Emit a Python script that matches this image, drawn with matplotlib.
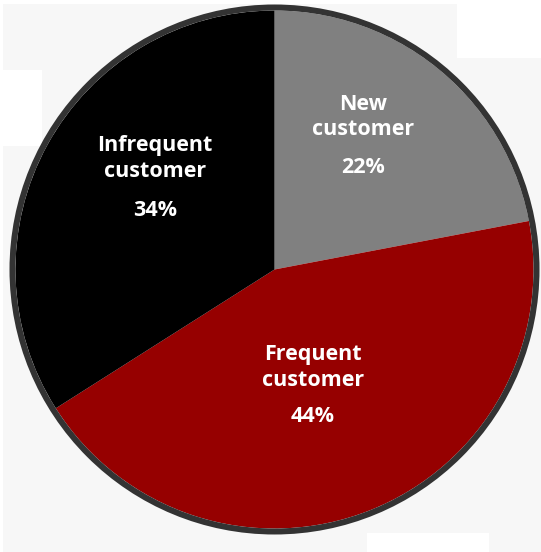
import matplotlib
matplotlib.use("Agg")
from matplotlib import pyplot as plt
from matplotlib.patches import Circle, Rectangle

# slices, clockwise from 12 o'clock
names = ["New\ncustomer", "Frequent\ncustomer", "Infrequent\ncustomer"]
shares = [22, 44, 34]
colours = ["#808080", "#960000", "#000000"]

# label anchor points (data coords, pie radius = 1)
name_xy = [(0.342, 0.589), (0.149, -0.378), (-0.461, 0.429)]
pct_xy = [(0.342, 0.392), (0.149, -0.566), (-0.461, 0.226)]

W, H = 541, 552
CX, CY, R = 274.5, 269.5, 259.0   # pie centre / radius in pixels (from top-left)

fig = plt.figure(figsize=(W / 100, H / 100), dpi=100, facecolor="white")

# light grey backdrop with a few white blocks left over from the source screenshot
def px_rect(x0, y0, x1, y1, colour):
    fig.patches.append(Rectangle((x0 / W, 1 - y1 / H), (x1 - x0) / W, (y1 - y0) / H,
                                 transform=fig.transFigure, facecolor=colour,
                                 edgecolor="none", zorder=-10))

px_rect(3, 4, W, H, "#f7f7f7")
px_rect(3, 70, 42, 146, "white")
px_rect(457, 0, W, 58, "white")
px_rect(367, 533, 489, H, "white")

ax = fig.add_axes([0, 0, 1, 1])
ax.patch.set_visible(False)

ax.pie(shares, colors=colours, startangle=90, counterclock=False,
       wedgeprops=dict(edgecolor="none", linewidth=0))
ax.add_patch(Circle((0, 0), 1 + 3 / R, facecolor="none", edgecolor="#333333",
                    linewidth=6 * 0.72, zorder=5))

for name, share, (nx, ny), (px, py) in zip(names, shares, name_xy, pct_xy):
    ax.text(nx, ny, name, ha="center", va="center", color="white",
            fontsize=15.5, fontweight="bold", family="Open Sans", linespacing=1.3)
    ax.text(px, py, f"{share}%", ha="center", va="center", color="white",
            fontsize=15.5, fontweight="bold", family="Open Sans")

ax.set_aspect("equal")
ax.set_xlim(-CX / R, (W - CX) / R)
ax.set_ylim(-(H - CY) / R, CY / R)
ax.axis("off")

fig.savefig("out.png", dpi=100, facecolor=fig.get_facecolor())
